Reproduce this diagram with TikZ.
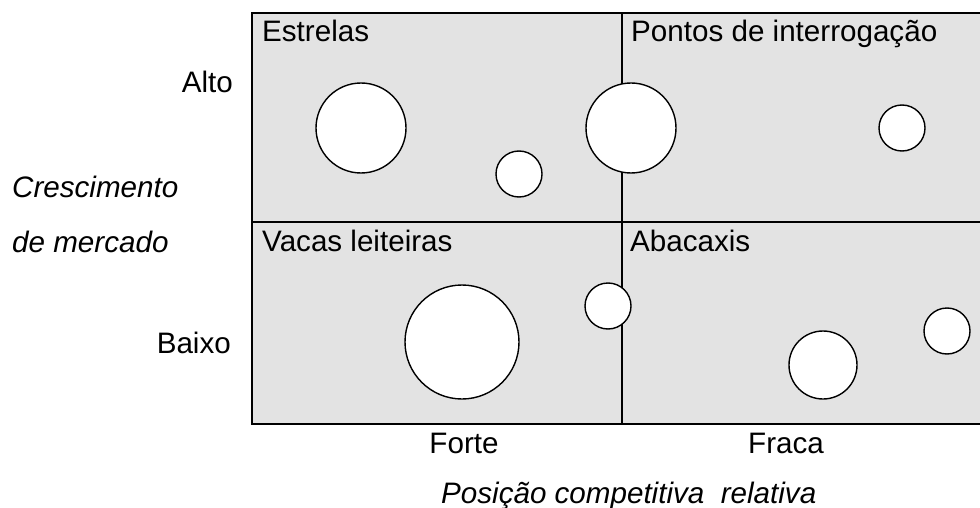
\documentclass[tikz,border=0pt]{standalone}
\usepackage{fontspec}
\setmainfont{Liberation Sans}
\usepackage{tikz}
\definecolor{quadgrey}{RGB}{227,227,227}

\begin{document}
\begin{tikzpicture}[x=1pt, y=-1pt,
    txt/.style={inner sep=0pt, font=\fontsize{29.6}{35}\selectfont},
    axis/.style={txt, font=\fontsize{29.6}{35}\selectfont\itshape},
    bubble/.style={draw, fill=white, line width=1.4pt}]
      \useasboundingbox (0,0) rectangle (980,508);

      % quadrants
      \fill[quadgrey] (252,13) rectangle (980,424);
      \draw[line width=2pt] (980,13) -- (252,13) -- (252,424) -- (980,424);
      \draw[line width=2pt] (252,222) -- (980,222);
      \draw[line width=2pt] (622,13) -- (622,424);

      \node[txt, anchor=base west] (estrelas) at (262,42) {Estrelas};
      \node[txt, anchor=base west] (pontos)   at (631,42) {Pontos de interrogação};
      \node[txt, anchor=base west] (vacas)    at (262,251) {Vacas leiteiras};
      \node[txt, anchor=base west] (abacaxis) at (630,251) {Abacaxis};

      % bubbles
      \draw[bubble] (361,128) circle (45);
      \draw[bubble] (519,174) circle (23);
      \draw[bubble] (631,128) circle (45);
      \draw[bubble] (902,128) circle (23);
      \draw[bubble] (462,342) circle (57);
      \draw[bubble] (608,306) circle (23);
      \draw[bubble] (823,365) circle (34);
      \draw[bubble] (947,331) circle (23);

      % axes
      \node[txt, anchor=base east] (alto)  at (233,93) {Alto};
      \node[txt, anchor=base east] (baixo) at (231,353) {Baixo};
      \node[axis, anchor=base west] (cresc)   at (12,197) {Crescimento};
      \node[axis, anchor=base west] (mercado) at (12,252) {de mercado};

      \node[txt, anchor=base] (forte) at (464,453) {Forte};
      \node[txt, anchor=base] (fraca) at (786,453) {Fraca};
      \node[axis, anchor=base west] (posicao) at (441,503) {Posição competitiva\ \ relativa};
\end{tikzpicture}
\end{document}
